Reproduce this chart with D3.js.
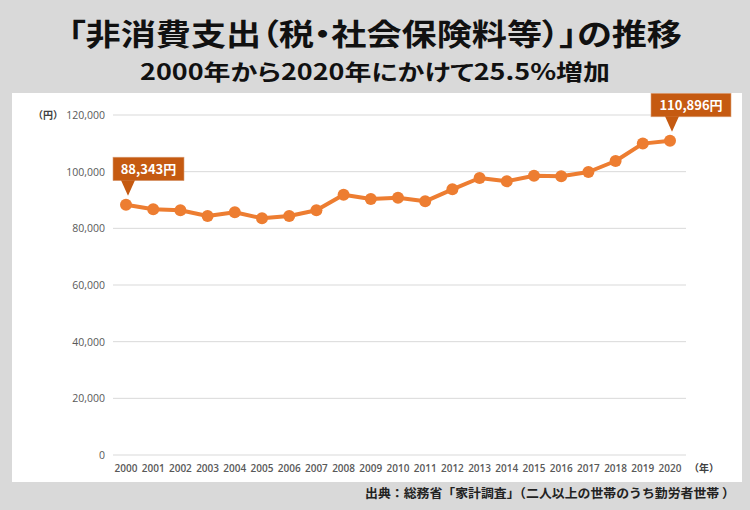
<!DOCTYPE html>
<html><head><meta charset="utf-8">
<script src="https://cdn.jsdelivr.net/npm/d3@7"></script>
<style>
body{margin:0;background:#d9d9d9;}
svg{display:block;}
.palt{font-feature-settings:"palt" 1;}
</style></head>
<body>
<svg id="c" width="750" height="510"></svg>
<script>
const years = d3.range(2000, 2021);
const values = [88343, 86718, 86365, 84353, 85659, 83541, 84353, 86365, 91871, 90353, 90812, 89541, 93776, 97765, 96600, 98576, 98365, 99882, 103765, 109900, 110896];
const yTicks = [0, 20000, 40000, 60000, 80000, 100000, 120000];
const title = "「非消費支出（税・社会保険料等）」の推移";
const subtitle = "2000年から2020年にかけて25.5%増加";
const source = "出典：総務省「家計調査」（二人以上の世帯のうち勤労者世帯 ）";
const callouts = [{i:0, text:"88,343円", dx:-13, w:71}, {i:20, text:"110,896円", dx:-19, w:80}];

const svg = d3.select("#c");
const cjk = "'Noto Sans CJK JP','Noto Sans',sans-serif";
svg.append("rect").attr("width",750).attr("height",510).attr("fill","#d9d9d9");
svg.append("rect").attr("x",12).attr("y",93).attr("width",730).attr("height",389).attr("fill","#fff");

svg.append("text").attr("class","palt").attr("x",375).attr("y",45).attr("text-anchor","middle")
  .attr("font-family",cjk).attr("font-weight","bold").attr("font-size",30)
  .attr("textLength",614).attr("lengthAdjust","spacingAndGlyphs")
  .attr("fill","#111").text(title);
svg.append("text").attr("class","palt").attr("x",375).attr("y",80).attr("text-anchor","middle")
  .attr("font-family",cjk).attr("font-weight","bold").attr("font-size",22)
  .attr("textLength",470).attr("lengthAdjust","spacingAndGlyphs")
  .attr("fill","#111").text(subtitle);

const x = d3.scaleLinear().domain([2000,2020]).range([126,670]);
const y = d3.scaleLinear().domain([0,120000]).range([455,115]);

const g = svg.append("g");
g.selectAll("line.grid").data(yTicks).join("line").attr("class","grid")
  .attr("x1",113).attr("x2",686).attr("y1",d=>y(d)).attr("y2",d=>y(d))
  .attr("stroke","#d9d9d9").attr("stroke-width",1);
g.selectAll("text.yl").data(yTicks).join("text").attr("class","yl")
  .attr("x",105).attr("y",d=>y(d)+4).attr("text-anchor","end")
  .attr("font-family","'Open Sans',sans-serif").attr("font-size",10.5).attr("fill","#595959")
  .text(d=>d3.format(",")(d));
g.append("text").attr("x",48).attr("y",119).attr("text-anchor","middle")
  .attr("font-family",cjk).attr("font-weight","bold").attr("font-size",10).attr("fill","#404040").text("（円）");
g.selectAll("text.xl").data(years).join("text").attr("class","xl")
  .attr("x",d=>x(d)).attr("y",472).attr("text-anchor","middle")
  .attr("font-family","'Open Sans',sans-serif").attr("font-size",10).attr("font-weight",600).attr("fill","#595959")
  .text(d=>d);
g.append("text").attr("x",704).attr("y",472).attr("text-anchor","middle")
  .attr("font-family",cjk).attr("font-weight","bold").attr("font-size",10).attr("fill","#404040").text("（年）");

const line = d3.line().x((d,i)=>x(years[i])).y(d=>y(d));
g.append("path").datum(values).attr("d",line).attr("fill","none")
  .attr("stroke","#ed7d31").attr("stroke-width",4).attr("stroke-linejoin","round");
g.selectAll("circle").data(values).join("circle")
  .attr("cx",(d,i)=>x(years[i])).attr("cy",d=>y(d)).attr("r",6).attr("fill","#ed7d31");

callouts.forEach(c=>{
  const px = x(years[c.i]), py = y(values[c.i]);
  const tipY = py-9, bottom = tipY-15, top = bottom-23.5;
  const left = px + c.dx;
  const cg = g.append("g");
  cg.append("rect").attr("x",left).attr("y",top).attr("width",c.w).attr("height",bottom-top)
    .attr("fill","#c55a11").attr("stroke","#d9a07a").attr("stroke-width",0.6);
  cg.append("path").attr("d",`M${px-5},${bottom-0.5} L${px+9},${bottom-0.5} L${px+2},${tipY} Z`).attr("fill","#c55a11");
  cg.append("text").attr("x",left+c.w/2).attr("y",top+16.5).attr("text-anchor","middle")
    .attr("font-family",cjk).attr("font-weight","bold").attr("font-size",13).attr("fill","#fff").text(c.text);
});

svg.append("text").attr("x",735).attr("y",498).attr("text-anchor","end")
  .attr("font-family",cjk).attr("font-weight","bold").attr("font-size",12.5)
  .attr("textLength",370).attr("lengthAdjust","spacingAndGlyphs")
  .attr("fill","#222").text(source);
</script>
</body></html>
